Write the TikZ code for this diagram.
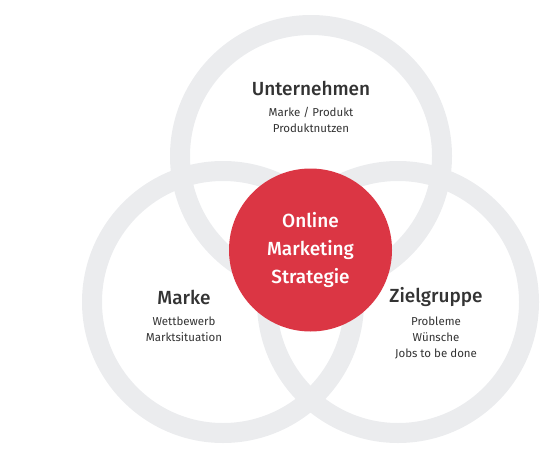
\documentclass[tikz,border=0pt]{standalone}
\usepackage{fontspec}
\setmainfont{Fira Sans}
\newfontfamily\headfont{Fira Sans Medium}
\definecolor{ringgray}{HTML}{EBECEE}
\definecolor{stratred}{HTML}{DB3644}
\definecolor{textgray}{HTML}{333333}
\tikzset{
  ring/.style={draw=ringgray, circle, line width=20pt, inner sep=0pt, minimum size=262pt},
  head/.style={text=textgray, font=\headfont\fontsize{19}{22}\selectfont},
  sub/.style={text=textgray, align=center, font=\fontsize{11.5}{16}\selectfont}
}

\begin{document}
\begin{tikzpicture}[x=1pt, y=-1pt]
\useasboundingbox (0,0) rectangle (540,460);
\node[ring] (top) at (311,156) {};
\node[ring] (left) at (223,302) {};
\node[ring] (right) at (398,302) {};
\node[circle, fill=stratred, inner sep=0pt, minimum size=163pt, text=white, align=center,
  font=\headfont\fontsize{19}{28}\selectfont] (core) at (310.5,250) {Online\\Marketing\\Strategie};
\node[head] (unternehmen) at (311,88) {Unternehmen};
\node[sub, anchor=north] (untsub) at (311,104) {Marke / Produkt\\Produktnutzen};
\node[head] (marke) at (184,297) {Marke};
\node[sub, anchor=north] (markesub) at (184,313) {Wettbewerb\\Marktsituation};
\node[head] (ziel) at (436,297) {Zielgruppe};
\node[sub, anchor=north] (zielsub) at (436,313) {Probleme\\W\"unsche\\Jobs to be done};
\end{tikzpicture}
\end{document}
